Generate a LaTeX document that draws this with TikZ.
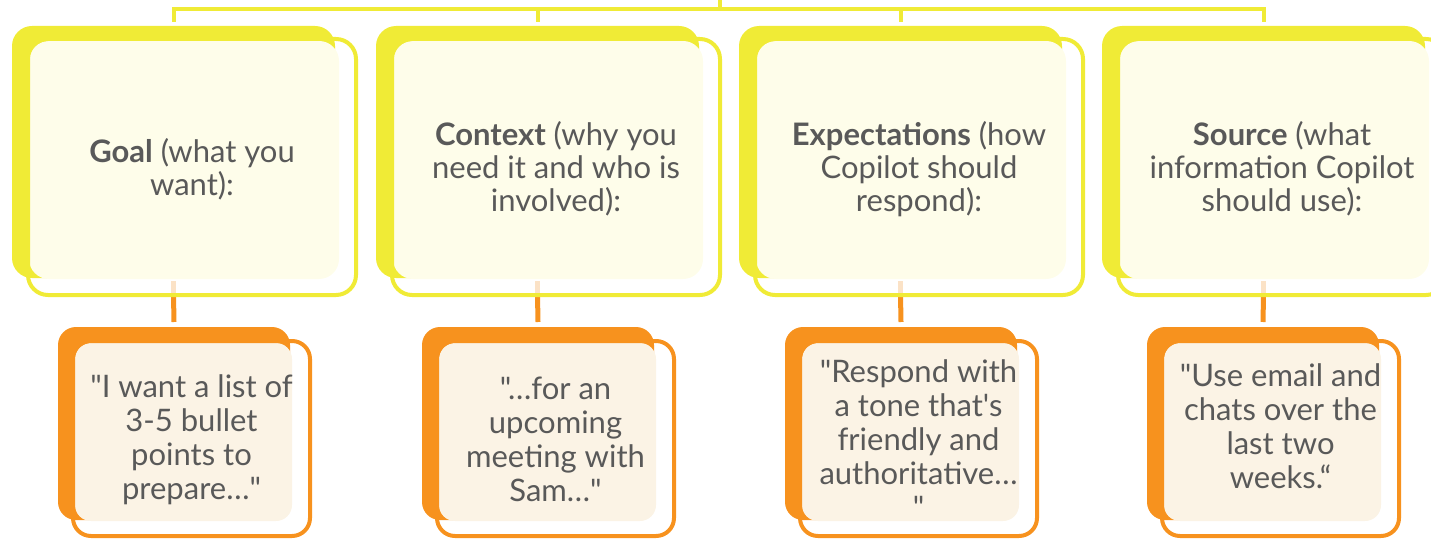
\documentclass[tikz,border=0pt]{standalone}
\usepackage{fontspec}
\newfontfamily\lato{Lato}
\definecolor{ybar}{HTML}{F0EB36}
\definecolor{ycream}{HTML}{FEFDEA}
\definecolor{obar}{HTML}{F7921E}
\definecolor{ofaint}{HTML}{FBE2C6}
\definecolor{ocream}{HTML}{FBF3E5}
\definecolor{txt}{HTML}{595959}
\begin{document}
\begin{tikzpicture}[x=1pt,y=-1pt,
  box/.style={shape=rectangle, inner sep=0pt, outer sep=0pt, anchor=north west},
  tback/.style={box, fill=ybar, rounded corners=20pt, minimum width=323pt, minimum height=252pt},
  tcream/.style={box, fill=ycream, rounded corners=20pt, minimum width=310pt, minimum height=238pt},
  tline/.style={box, draw=ybar, line width=4pt, rounded corners=20pt, minimum width=328pt, minimum height=256pt},
  bback/.style={box, fill=obar, rounded corners=18pt, minimum width=232pt, minimum height=193pt},
  bcream/.style={box, fill=ocream, rounded corners=16pt, minimum width=217pt, minimum height=178pt},
  bline/.style={box, draw=obar, line width=4pt, rounded corners=18pt, minimum width=237pt, minimum height=195pt},
  ybus/.style={draw=ybar, line width=4pt},
  oconn/.style={draw=obar, line width=5pt},
  ofade/.style={draw=ofaint, line width=5pt},
  ttext/.style={anchor=center, align=center, text=txt, inner sep=0pt,
    font=\lato\fontsize{31}{33}\selectfont},
  btext/.style={ttext, font=\lato\fontsize{31}{34}\selectfont},
]
\useasboundingbox (0,0) rectangle (1431,540);

% top cards
\foreach \i/\x in {1/12,2/376,3/739,4/1102}{
  \node[tback] (tb\i) at (\x,26) {};
  \node[tcream] (tc\i) at (\x+17,41) {};
}
% bottom cards
\foreach \i/\x in {1/58,2/422,3/785,4/1147}{
  \node[bback] (bb\i) at (\x,327) {};
  \node[bcream] (bc\i) at (\x+17,343) {};
}
% orange connectors
\foreach \i in {1,2,3,4}{
  \draw[ofade] ([yshift=-3pt]tb\i.south) -- ([yshift=-17pt]tb\i.south);
  \draw[oconn] ([yshift=-17pt]tb\i.south) -- ([yshift=5pt]bb\i.north);
}
% outlines
\foreach \i/\x in {1/12,2/376,3/739,4/1102}{
  \node[tline] (tl\i) at (\x+16,39) {};
}
\foreach \i/\x in {1/58,2/422,3/785,4/1147}{
  \node[bline] (bl\i) at (\x+15,341) {};
}
% yellow bus
\coordinate (root) at (720,-6);
\coordinate (bus) at (720,9);
\draw[ybus] (root) -- (root |- bus);
\draw[ybus, line join=miter] ([yshift=4pt]tb1.north) -- (tb1.north |- bus) -- (tb4.north |- bus) -- ([yshift=4pt]tb4.north);
\draw[ybus] (tb2.north |- bus) -- ([yshift=4pt]tb2.north);
\draw[ybus] (tb3.north |- bus) -- ([yshift=4pt]tb3.north);

% texts
\node[ttext] (t1) at ([yshift=-2pt]tl1.center) {\textbf{Goal} (what you\\want):};
\node[ttext] (t2) at ([yshift=-2pt]tl2.center) {\textbf{Context} (why you\\need it and who is\\involved):};
\node[ttext] (t3) at ([yshift=-2pt]tl3.center) {\textbf{Expectations} (how\\Copilot should\\respond):};
\node[ttext] (t4) at ([yshift=-2pt]tl4.center) {\textbf{Source} (what\\information Copilot\\should use):};

\node[btext] (u1) at ([yshift=-1pt]bl1.center) {"I want a list of\\3-5 bullet\\points to\\prepare…"};
\node[btext] (u2) at ([yshift=-1pt]bl2.center) {"…for an\\upcoming\\meeting with\\Sam…"};
\node[btext] (u3) at ([yshift=-1pt]bl3.center) {"Respond with\\a tone that's\\friendly and\\authoritative…\\"};
\node[btext] (u4) at ([yshift=12pt]bl4.center) {"Use email and\\chats over the\\last two\\weeks.“};
\end{tikzpicture}
\end{document}
